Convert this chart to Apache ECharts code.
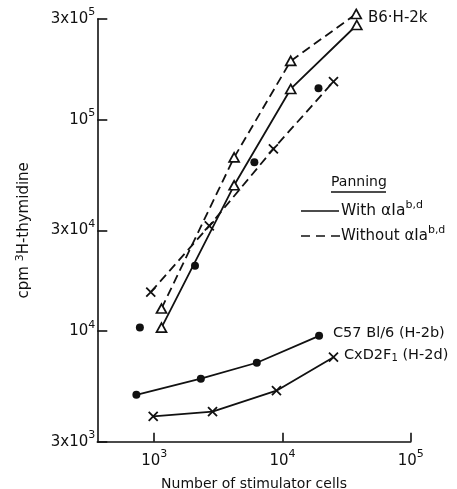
<!DOCTYPE html>
<html><head><meta charset="utf-8">
<script src="https://cdn.jsdelivr.net/npm/echarts@6/dist/echarts.min.js"></script>
<style>html,body{margin:0;padding:0;background:#fff}#c{width:457px;height:489px}</style>
</head><body><div id="c"></div>
<script>
// ---- tick labels ----
const xTickValues = [1000, 10000, 100000];
const xTickLabels = ['10{sup|3}', '10{sup|4}', '10{sup|5}'];
const yTickValues = [3000, 10000, 30000, 100000, 300000];
const yTickLabels = ['3x10{sup|3}', '10{sup|4}', '3x10{sup|4}', '10{sup|5}', '3x10{sup|5}'];

// ---- series values (stimulator cells, cpm) ----
const b6WithX = [1140, 4200, 11600, 38000];
const b6WithY = [10400, 49000, 140000, 281000];
const b6WithoutX = [1140, 4200, 11600, 37600];
const b6WithoutY = [12800, 66400, 190000, 317000];
const cxdWithoutX = [940, 2690, 8500, 25000];
const cxdWithoutY = [15300, 31500, 72900, 151600];
const c57WithoutX = [773, 2080, 6040, 19100];
const c57WithoutY = [10400, 20400, 63000, 141000];
const c57WithX = [726, 2310, 6310, 19300];
const c57WithY = [5000, 5960, 7090, 9510];
const cxdWithX = [982, 2850, 8980, 25000];
const cxdWithY = [3950, 4160, 5230, 7530];

const INK = '#111';
const FONT = 'DejaVu Sans';
const zip = (xs, ys) => xs.map((x, i) => [x, ys[i]]);
const pick = (vals, labels) => v => {
  let best = 0, d = Infinity;
  vals.forEach((t, i) => { const dd = Math.abs(Math.log10(v) - Math.log10(t)); if (dd < d) { d = dd; best = i; } });
  return d < 0.02 ? labels[best] : '';
};
const supRich = { sup: { fontSize: 11, lineHeight: 11, verticalAlign: 'top', fontFamily: FONT, color: INK } };
const crossPath = 'path://M0,0L10,10M10,0L0,10';

const triStyle = { color: '#fff', borderColor: INK, borderWidth: 1.7, opacity: 1 };
const dotStyle = { color: INK, borderWidth: 0, opacity: 1 };
const crossStyle = { color: 'rgba(0,0,0,0)', borderColor: INK, borderWidth: 1.8, opacity: 1 };
const solid = { color: INK, width: 1.8, type: 'solid' };
const dashed = { color: INK, width: 1.8, type: [9, 5] };

const chart = echarts.init(document.getElementById('c'), null, { renderer: 'canvas' });
chart.setOption({
  backgroundColor: '#fff',
  animation: false,
  grid: { left: 97.3, right: 46.3, top: 19, bottom: 47.3, containLabel: false, outerBoundsMode: 'none' },
  xAxis: {
    type: 'log', logBase: 10, min: 360, max: 100000,
    axisLine: { show: true, lineStyle: { color: INK, width: 1.6 } },
    axisTick: { show: true, inside: true, length: 9, customValues: xTickValues, lineStyle: { color: INK, width: 1.6 } },
    axisLabel: { customValues: xTickValues, formatter: pick(xTickValues, xTickLabels), margin: 7,
      fontSize: 15, lineHeight: 24, fontFamily: FONT, color: INK, rich: supRich },
    splitLine: { show: false }, minorTick: { show: false },
    name: 'Number of stimulator cells', nameLocation: 'middle', nameGap: 27,
    nameTextStyle: { fontSize: 14, fontFamily: FONT, color: INK }
  },
  yAxis: {
    type: 'log', logBase: 10, min: 3000, max: 300000,
    axisLine: { show: true, lineStyle: { color: INK, width: 1.6 } },
    axisTick: { show: true, inside: true, length: 10, customValues: yTickValues, lineStyle: { color: INK, width: 1.6 } },
    axisLabel: { customValues: yTickValues, formatter: pick(yTickValues, yTickLabels), margin: 2,
      fontSize: 15, lineHeight: 24, fontFamily: FONT, color: INK, rich: supRich },
    splitLine: { show: false }, minorTick: { show: false },
    name: 'cpm {sup|3}H-thymidine', nameLocation: 'middle', nameGap: 63,
    nameTextStyle: { fontSize: 15, lineHeight: 20, fontFamily: FONT, color: INK, rich: supRich }
  },
  series: [
    { name: 'B6 with', type: 'line', clip: false, data: zip(b6WithX, b6WithY), lineStyle: solid,
      symbol: 'triangle', symbolSize: [10, 9], itemStyle: triStyle, z: 3 },
    { name: 'B6 without', type: 'line', clip: false, data: zip(b6WithoutX, b6WithoutY), lineStyle: dashed,
      symbol: 'triangle', symbolSize: [10, 9], itemStyle: triStyle, z: 3 },
    { name: 'CxD2F1 without', type: 'line', clip: false, data: zip(cxdWithoutX, cxdWithoutY), lineStyle: dashed,
      symbol: crossPath, symbolSize: 9, itemStyle: crossStyle, z: 3 },
    { name: 'C57 without', type: 'scatter', clip: false, data: zip(c57WithoutX, c57WithoutY),
      symbol: 'circle', symbolSize: 8, itemStyle: dotStyle, z: 4 },
    { name: 'C57 with', type: 'line', clip: false, data: zip(c57WithX, c57WithY), lineStyle: solid,
      symbol: 'circle', symbolSize: 8, itemStyle: dotStyle, z: 3 },
    { name: 'CxD2F1 with', type: 'line', clip: false, data: zip(cxdWithX, cxdWithY), lineStyle: solid,
      symbol: crossPath, symbolSize: 9, itemStyle: crossStyle, z: 3 }
  ],
  graphic: [
    { type: 'text', left: 368, top: 11, style: { text: 'B6·H-2k', font: '15px ' + FONT, fill: INK } },
    { type: 'text', left: 333, top: 326, style: { text: 'C57 Bl/6 (H-2b)', font: '14.5px ' + FONT, fill: INK } },
    { type: 'text', left: 344, top: 348, style: { text: 'CxD2F{sub|1} (H-2d)', font: '14.5px ' + FONT, fill: INK,
      rich: { sub: { fontSize: 10, fontFamily: FONT, verticalAlign: 'bottom', lineHeight: 10 } } } },
    { type: 'text', left: 331, top: 175, style: { text: 'Panning', font: '14px ' + FONT, fill: INK } },
    { type: 'line', shape: { x1: 331, y1: 192, x2: 386, y2: 192 }, style: { stroke: INK, lineWidth: 1.4 } },
    { type: 'line', shape: { x1: 301, y1: 211, x2: 339, y2: 211 }, style: { stroke: INK, lineWidth: 1.6 } },
    { type: 'text', left: 341, top: 200, style: { text: 'With αIa{sup|b,d}', font: '15.5px ' + FONT, fill: INK, lineHeight: 22, rich: supRich } },
    { type: 'line', shape: { x1: 301, y1: 236, x2: 340, y2: 236 }, style: { stroke: INK, lineWidth: 1.6, lineDash: [9, 6] } },
    { type: 'text', left: 341, top: 225, style: { text: 'Without αIa{sup|b,d}', font: '15px ' + FONT, fill: INK, lineHeight: 22, rich: supRich } }
  ]
});
</script></body></html>
